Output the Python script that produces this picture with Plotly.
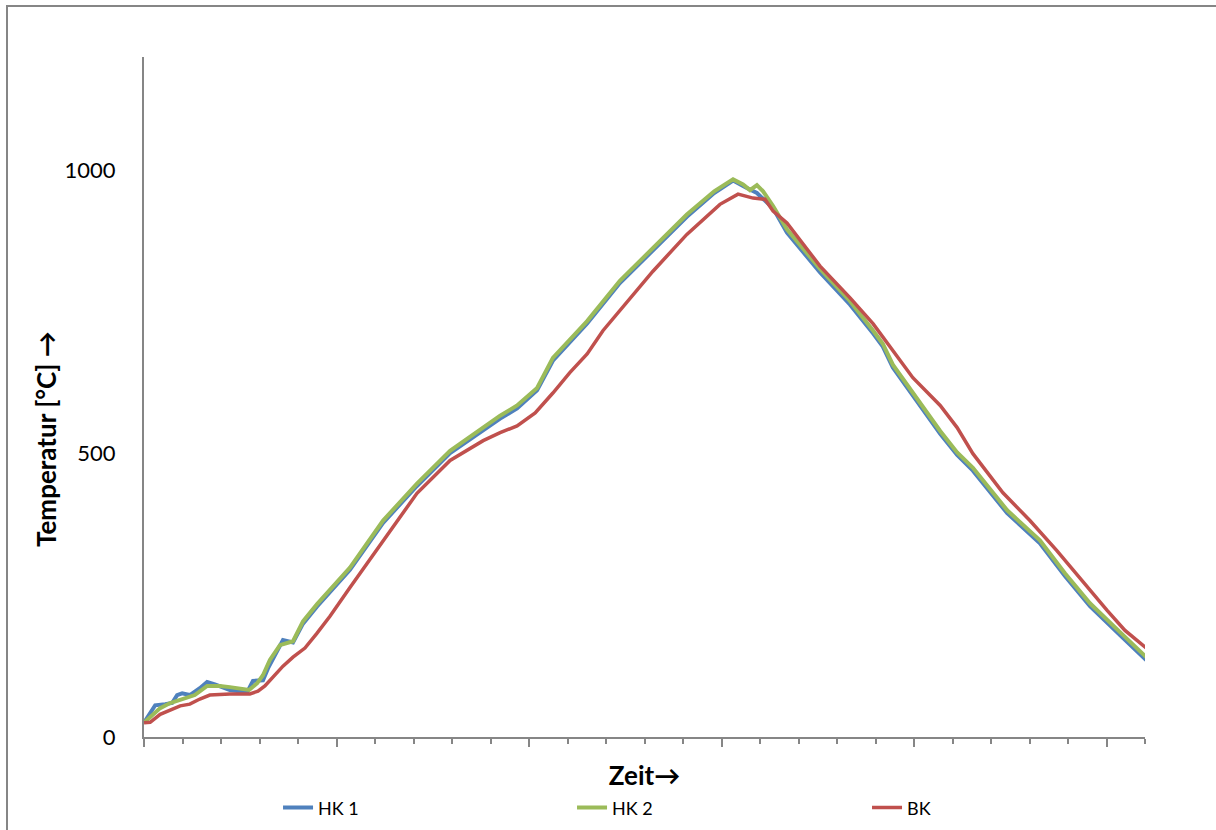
import plotly.graph_objects as go

# time axis (arbitrary units, 26 intervals on the category axis)
hk1_t = [0, 0.16, 0.29, 0.55, 0.73, 0.86, 0.99, 1.19, 1.45, 1.64, 1.84, 2.23, 2.68, 2.83, 3.09, 3.22, 3.35, 3.61, 3.87,
         4.13, 4.49, 4.91, 5.35, 6.21, 7.09, 7.95, 8.81, 9.25, 9.69, 10.21, 10.62, 11.06, 11.51, 12.36, 13.22, 14.10,
         14.81, 15.30, 15.62, 15.92, 16.34, 16.70, 17.56, 18.34, 18.94, 19.19, 19.45, 19.97, 20.68, 21.12, 21.53,
         22.42, 23.27, 23.92, 24.57, 25.35, 26.03]
hk1_v = [25, 44, 56, 58, 60, 74, 77, 74, 86, 97, 93, 83, 79, 99, 100, 121, 139, 171, 167,
         200, 230, 262, 295, 378, 443, 501, 542, 562, 580, 612, 664, 697, 730, 801, 859, 918,
         960, 982, 970, 960, 933, 890, 820, 763, 712, 689, 652, 602, 535, 498, 470,
         395, 342, 284, 231, 180, 136]

hk2_t = [0, 0.21, 0.42, 0.68, 0.94, 1.32, 1.64, 1.97, 2.23, 2.49, 2.73, 2.94, 3.09, 3.27, 3.53, 3.87,
         4.13, 4.49, 4.91, 5.35, 6.21, 7.09, 7.95, 8.81, 9.25, 9.69, 10.21, 10.62, 11.06, 11.51, 12.36, 13.22, 14.10,
         14.81, 15.30, 15.56, 15.74, 15.92, 16.08, 16.34, 16.70, 17.56, 18.34, 18.94, 19.19, 19.45, 19.97, 20.68,
         21.12, 21.53, 22.42, 23.27, 23.92, 24.57, 25.35, 26.03]
hk2_v = [25, 37, 51, 60, 65, 74, 90, 90, 88, 86, 83, 95, 109, 136, 162, 169,
         204, 234, 266, 299, 382, 447, 505, 546, 567, 585, 616, 669, 701, 734, 805, 863, 922,
         963, 984, 975, 965, 974, 963, 937, 896, 826, 769, 717, 694, 657, 607, 540,
         502, 475, 400, 347, 289, 236, 185, 141]

bk_t = [0, 0.16, 0.42, 0.68, 0.94, 1.19, 1.45, 1.71, 2.23, 2.75, 2.96, 3.14, 3.40, 3.61, 3.87, 4.18, 4.49, 4.83,
        5.35, 6.21, 7.09, 7.95, 8.81, 9.25, 9.69, 10.16, 10.62, 11.06, 11.51, 11.92, 12.36, 13.22, 14.10, 14.96,
        15.43, 15.66, 15.82, 16.13, 16.34, 16.70, 17.56, 18.34, 18.94, 19.97, 20.68, 21.12, 21.53, 22.31, 23.01,
        23.71, 24.31, 25.01, 25.48, 26.03]
bk_v = [25, 26, 40, 48, 55, 58, 67, 74, 76, 76, 81, 90, 109, 125, 141, 157, 183, 213,
        264, 347, 430, 488, 523, 537, 549, 572, 607, 643, 676, 717, 752, 822, 887, 940,
        958, 954, 951, 949, 928, 907, 831, 775, 729, 634, 585, 546, 500, 431, 382,
        329, 280, 224, 188, 157]

y_ticks = [0, 500, 1000]
y_tick_text = ["0", "500", "1000"]

FONT = "Lato, Carlito, sans-serif"
AXIS_COLOR = "#868686"

fig = go.Figure()
fig.add_trace(go.Scatter(x=hk1_t, y=hk1_v, mode="lines", name="HK 1", legend="legend",
                         line=dict(color="#4F81BD", width=4)))
fig.add_trace(go.Scatter(x=hk2_t, y=hk2_v, mode="lines", name="HK 2", legend="legend2",
                         line=dict(color="#9BBB59", width=4)))
fig.add_trace(go.Scatter(x=bk_t, y=bk_v, mode="lines", name="BK", legend="legend3",
                         line=dict(color="#C0504D", width=3.5)))

leg_common = dict(orientation="h", xanchor="left", y=-0.077, yanchor="top",
                  font=dict(family=FONT, size=18), bgcolor="rgba(0,0,0,0)")

fig.update_layout(
    width=1216, height=830,
    margin=dict(l=144, r=71, t=57, b=93, autoexpand=False),
    paper_bgcolor="white", plot_bgcolor="white",
    font=dict(family=FONT, size=18, color="black"),
    showlegend=True,
    legend=dict(x=0.1339, **leg_common),
    legend2=dict(x=0.4276, **leg_common),
    legend3=dict(x=0.7223, **leg_common),
    xaxis=dict(range=[0, 26], showgrid=False, zeroline=False, automargin=False,
               showline=True, linecolor=AXIS_COLOR, linewidth=2,
               ticks="outside", tickmode="linear", tick0=0, dtick=5, ticklen=8,
               tickcolor=AXIS_COLOR, tickwidth=2, showticklabels=False,
               minor=dict(ticks="outside", tick0=0, dtick=1, ticklen=5,
                          tickcolor=AXIS_COLOR, tickwidth=2, showgrid=False),
               title=dict(text="<b>Zeit→</b>", font=dict(family=FONT, size=26), standoff=21)),
    yaxis=dict(range=[0, 1200], showgrid=False, zeroline=False, automargin=False,
               showline=True, linecolor=AXIS_COLOR, linewidth=2,
               tickmode="array", tickvals=y_ticks, ticktext=y_tick_text,
               ticks="", ticklabelstandoff=22,
               tickfont=dict(family=FONT, size=22)),
    annotations=[dict(text="<b>Temperatur [°C] →</b>", textangle=-90, showarrow=False,
                      xref="paper", yref="paper", x=(46 - 144) / 1001, y=(737 - 439) / 680,
                      xanchor="center", yanchor="middle", font=dict(family=FONT, size=26))],
    shapes=[dict(type="rect", xref="paper", yref="paper",
                 x0=(7 - 144) / 1001, x1=1.2, y0=-0.3, y1=(737 - 6) / 680,
                 line=dict(color=AXIS_COLOR, width=2), fillcolor="rgba(0,0,0,0)", layer="below")],
)

fig.write_html("out.html")
